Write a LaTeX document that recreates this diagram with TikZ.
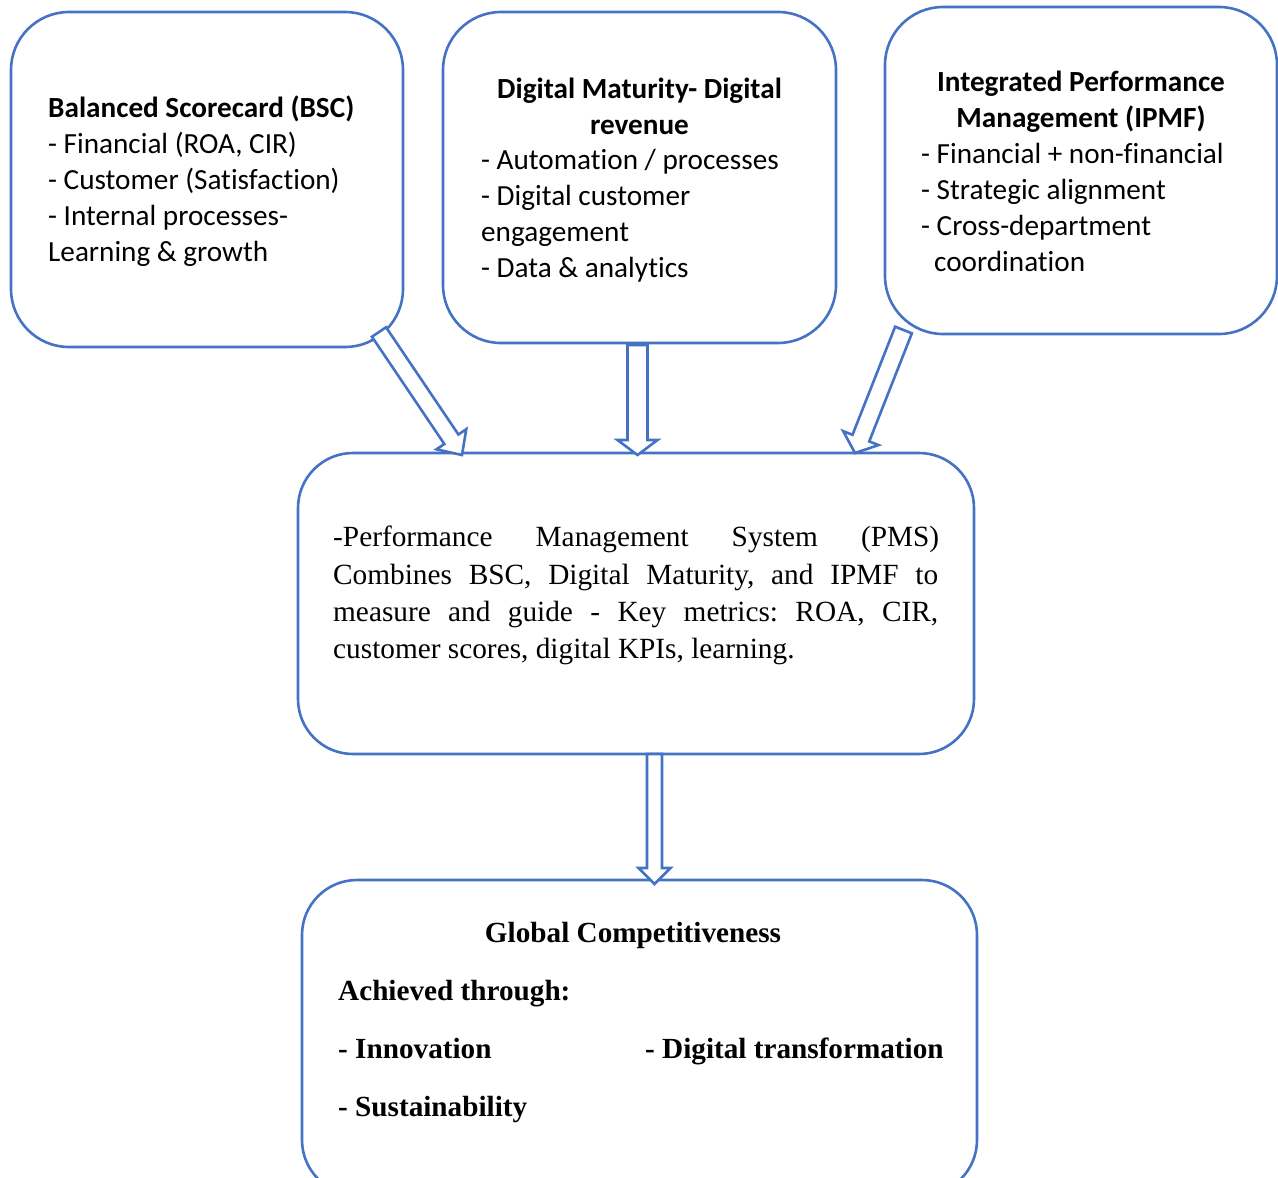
\documentclass[tikz,border=0pt]{standalone}
\usepackage{fontspec}
\setmainfont{Carlito}[Ligatures={NoCommon}]
\newfontfamily\tms{Liberation Serif}[Ligatures={NoCommon}]
\usetikzlibrary{calc}
\definecolor{bluel}{HTML}{4472C4}
\frenchspacing
\tikzset{
 box/.style={draw=bluel, line width=2.6pt, rounded corners=58pt, anchor=north west, inner sep=0pt, outer sep=0pt},
 cal/.style={font=\fontsize{29.2}{36}\selectfont, inner sep=0pt, anchor=base west},
 calb/.style={font=\fontsize{29.2}{36}\selectfont\bfseries, inner sep=0pt, anchor=base west},
 calbc/.style={font=\fontsize{29.2}{36}\selectfont\bfseries, inner sep=0pt, anchor=base},
 tnr/.style={font=\tms\fontsize{29.3}{36}\selectfont, inner sep=0pt, anchor=base west},
 tnrb/.style={font=\tms\bfseries\fontsize{29.2}{36}\selectfont, inner sep=0pt, anchor=base west},
 tnrbc/.style={font=\tms\bfseries\fontsize{29.2}{36}\selectfont, inner sep=0pt, anchor=base},
 blk/.style={draw=bluel, fill=white, line width=2.6pt, line join=miter},
}
% #1 tail, #2 tip, #3 shaft half width, #4 head half width, #5 head length
\newcommand\blockarrow[5]{%
  \coordinate (#1n) at ($(#2)!#5!(#1)$);
  \draw[blk] ($(#1)!#3!90:(#2)$) -- ($(#1n)!#3!-90:(#1)$) -- ($(#1n)!#4!-90:(#1)$)
    -- (#2) -- ($(#1n)!#4!90:(#1)$) -- ($(#1n)!#3!90:(#1)$) -- ($(#1)!#3!-90:(#2)$) -- cycle;}
\begin{document}
\begin{tikzpicture}[x=1pt,y=-1pt]
\useasboundingbox (0,0) rectangle (1278,1178);
\clip (0,0) rectangle (1278,1178);

% boxes
\node[box, minimum width=392pt, minimum height=335pt] (bsc) at (11,12) {};
\node[box, minimum width=393pt, minimum height=331pt] (dm) at (443,12) {};
\node[box, minimum width=392pt, minimum height=327pt] (ipmf) at (885,7) {};
\node[box, rounded corners=55pt, minimum width=676pt, minimum height=301pt] (pms) at (298,453) {};
\node[box, rounded corners=55pt, minimum width=675pt, minimum height=315pt] (gc) at (302,880) {};

% BSC text
\node[calb] (t1a) at (48,117) {Balanced Scorecard (BSC)};
\node[cal] (t1b) at (48,153) {- Financial (ROA, CIR)};
\node[cal] (t1c) at (48,189) {- Customer (Satisfaction)};
\node[cal] (t1d) at (48,225) {- Internal processes-};
\node[cal] (t1e) at (48,261) {Learning \& growth};

% Digital maturity text
\node[calbc] (t2a) at (639.5,98) {Digital Maturity- Digital};
\node[calbc] (t2b) at (639.5,134) {revenue};
\node[cal] (t2c) at (481,169.5) {- Automation / processes};
\node[cal] (t2d) at (481,205.5) {- Digital customer};
\node[cal] (t2e) at (481,241.5) {engagement};
\node[cal] (t2f) at (481,277.5) {- Data \& analytics};

% IPMF text
\node[calbc] (t3a) at (1081,91) {Integrated Performance};
\node[calbc] (t3b) at (1081,127) {Management (IPMF)};
\node[cal] (t3c) at (921,163) {- Financial + non-financial};
\node[cal] (t3d) at (921,199) {- Strategic alignment};
\node[cal] (t3e) at (921,235) {- Cross-department};
\node[cal] (t3f) at (934,271) {coordination};

% PMS text
\node[tnr] (t4a) at (333,546) {\hbox to 606pt{-Performance Management System (PMS)}};
\node[tnr] (t4b) at (333,584.5) {\hbox to 605pt{Combines BSC, Digital Maturity, and IPMF to}};
\node[tnr] (t4c) at (333,621) {\hbox to 605pt{measure and guide - Key metrics: ROA, CIR,}};
\node[tnr] (t4d) at (333,658) {customer scores, digital KPIs, learning.};

% Global competitiveness text
\node[tnrbc] (t5a) at (633,942) {Global Competitiveness};
\node[tnrb] (t5b) at (338,1000) {Achieved through:};
\node[tnrb] (t5c) at (338,1058) {- Innovation};
\node[tnrb] (t5d) at (645,1058) {- Digital transformation};
\node[tnrb] (t5e) at (338,1116) {- Sustainability};

% arrows
\coordinate (a1t) at (379,332);  \coordinate (a1h) at (462,455);
\coordinate (a2t) at (637.5,345); \coordinate (a2h) at (637.5,455);
\coordinate (a3t) at (903.5,330); \coordinate (a3h) at (855,453);
\coordinate (a4t) at (654.5,754); \coordinate (a4h) at (654.5,884);
\blockarrow{a1t}{a1h}{8.5pt}{18pt}{19pt}
\blockarrow{a2t}{a2h}{10pt}{20pt}{15pt}
\blockarrow{a3t}{a3h}{9pt}{19pt}{16pt}
\blockarrow{a4t}{a4h}{7.5pt}{16pt}{16pt}
\end{tikzpicture}
\end{document}
